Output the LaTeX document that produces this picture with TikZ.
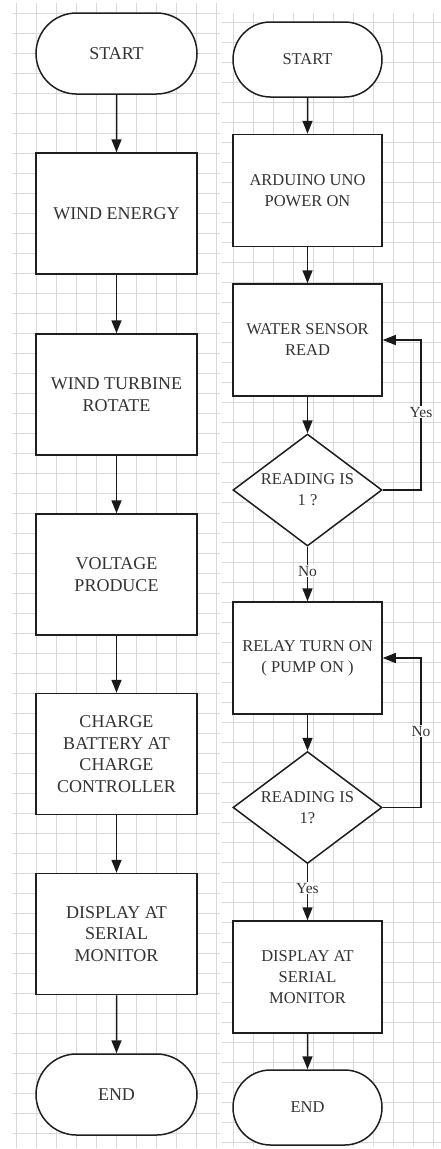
\documentclass[tikz,border=0pt]{standalone}
\usepackage{fontspec}
\setmainfont{Liberation Serif}
\usetikzlibrary{shapes.geometric,shapes.misc,arrows.meta}
\begin{document}
\begin{tikzpicture}[x=1pt,y=-1pt,
  every node/.style={font=\fontsize{16.5}{21}\selectfont, text=black!80},
  gridc/.style={draw=gray!30, line width=0.5pt},
  shp/.style={draw=black!88, line width=1.5pt, fill=white, inner sep=0pt, align=center},
  bigtxt/.style={font=\fontsize{18}{21.5}\selectfont},
  termL/.style={shp, bigtxt, rounded rectangle, minimum width=161pt, minimum height=81pt},
  termR/.style={shp, rounded rectangle, minimum width=149pt, minimum height=75pt},
  boxL/.style={shp, bigtxt, rectangle, minimum width=161pt, minimum height=121pt},
  boxR/.style={shp, rectangle, minimum width=149pt, minimum height=112pt},
  dec/.style={shp, diamond, aspect=1.33, minimum width=149pt, minimum height=112pt},
  arr/.style={draw=black!90, line width=1.5pt, -{Triangle[width=10pt,length=13pt]}},
  lbl/.style={font=\fontsize{15.5}{17}\selectfont, fill=white, inner sep=1pt}
]
\useasboundingbox (0,0) rectangle (441,1149);
\fill[white] (0,0) rectangle (441,1149);
% grids
\foreach \x in {16,36,...,216} \draw[gridc] (\x,3) -- (\x,1148);
\foreach \y in {13,33,...,1143} \draw[gridc] (13,\y) -- (220,\y);
\foreach \x in {233,253,...,433} \draw[gridc] (\x,13) -- (\x,1146);
\foreach \y in {22,42,...,1142} \draw[gridc] (222,\y) -- (441,\y);

% left column
\node[termL] (sL) at (116.5,53.5) {START};
\node[boxL] (l1) at (116.5,213.5) {WIND ENERGY};
\node[boxL] (l2) at (116.5,394.5) {WIND TURBINE\\ROTATE};
\node[boxL] (l3) at (116.5,574.5) {VOLTAGE\\PRODUCE};
\node[boxL] (l4) at (116.5,754) {CHARGE\\BATTERY AT\\CHARGE\\CONTROLLER};
\node[boxL] (l5) at (116.5,934) {DISPLAY AT\\SERIAL\\MONITOR};
\node[termL] (eL) at (116.5,1094.5) {END};
\draw[arr] (sL) -- (l1);
\draw[arr] (l1) -- (l2);
\draw[arr] (l2) -- (l3);
\draw[arr] (l3) -- (l4);
\draw[arr] (l4) -- (l5);
\draw[arr] (l5) -- (eL);

% right column
\node[termR] (sR) at (307.5,59.5) {START};
\node[boxR] (r1) at (307.5,190.5) {ARDUINO UNO\\POWER ON};
\node[boxR] (r2) at (307.5,340) {WATER SENSOR\\READ};
\node[dec] (d1) at (307.5,490) {READING IS\\1 ?};
\node[boxR] (r3) at (307.5,658) {RELAY TURN ON\\( PUMP ON )};
\node[dec] (d2) at (307.5,807.5) {READING IS\\1?};
\node[boxR] (r4) at (307.5,977) {DISPLAY AT\\SERIAL\\MONITOR};
\node[termR] (eR) at (307.5,1107.5) {END};
\coordinate (c1a) at (421,490);
\coordinate (c1b) at (421,340);
\coordinate (c2a) at (421,807.5);
\coordinate (c2b) at (421,658);
\draw[arr] (sR) -- (r1);
\draw[arr] (r1) -- (r2);
\draw[arr] (r2) -- (d1);
\draw[arr] (d1) -- node[lbl, pos=0.45] {No} (r3);
\draw[arr] (d1.east) -- (c1a) -- node[lbl, pos=0.52] {Yes} (c1b) -- (r2.east);
\draw[arr] (r3) -- (d2);
\draw[arr] (d2.east) -- (c2a) -- node[lbl, pos=0.51] {No} (c2b) -- (r3.east);
\draw[arr] (d2) -- node[lbl, pos=0.43] {Yes} (r4);
\draw[arr] (r4) -- (eR);
\end{tikzpicture}
\end{document}
